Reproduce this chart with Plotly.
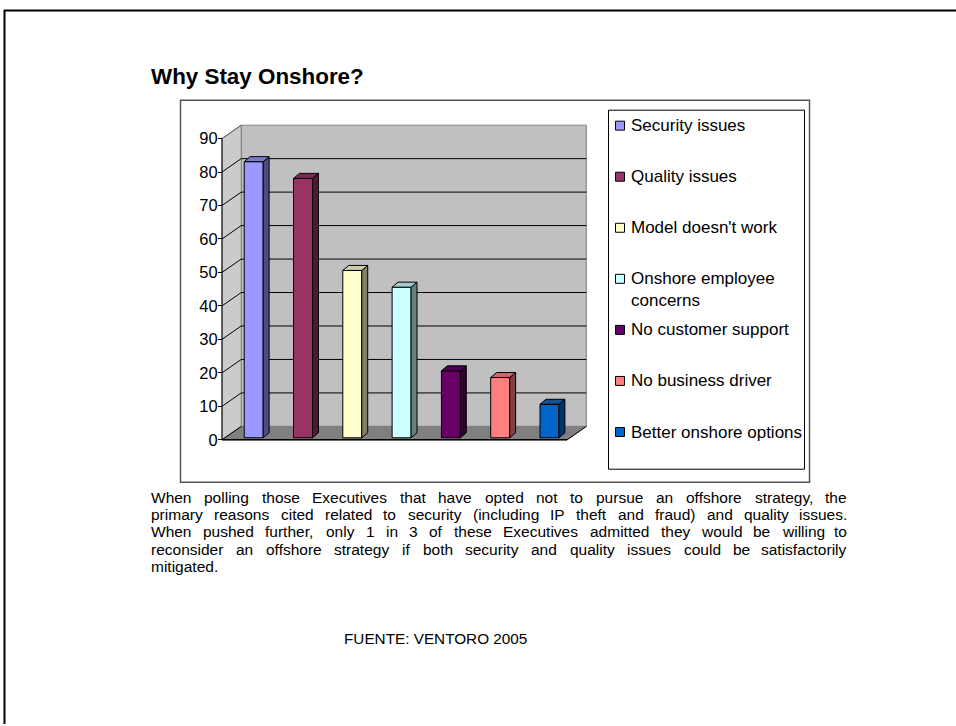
import plotly.graph_objects as go

# ---------------- data ----------------
categories = ["Security issues", "Quality issues", "Model doesn't work",
              "Onshore employee concerns", "No customer support",
              "No business driver", "Better onshore options"]
legend_lines = [["Security issues"], ["Quality issues"], ["Model doesn't work"],
                ["Onshore employee", "concerns"], ["No customer support"],
                ["No business driver"], ["Better onshore options"]]
values = [82.5, 77.5, 50, 45, 20, 18, 10]
front_colors = ["#9999FF", "#993366", "#FFFFCC", "#CCFFFF", "#660066", "#FF8080", "#0066CC"]
side_colors = ["#4C4C80", "#4D1A33", "#808066", "#668080", "#330033", "#804040", "#003366"]
top_colors = ["#7A7ACC", "#7A2952", "#CCCCA3", "#A3CCCC", "#520052", "#CC6666", "#0052A3"]
y_ticks = [0, 10, 20, 30, 40, 50, 60, 70, 80, 90]

title_text = "Why Stay Onshore?"
paragraph_lines = [
    "When polling those Executives that have opted not to pursue an offshore strategy, the",
    "primary reasons cited related to security (including IP theft and fraud) and quality issues.",
    "When pushed further, only 1 in 3 of these Executives admitted they would be willing to",
    "reconsider an offshore strategy if both security and quality issues could be satisfactorily",
    "mitigated.",
]
source_text = "FUENTE: VENTORO 2005"

# ---------------- geometry ----------------
W, H = 956, 726
FONT = "Arial, Liberation Sans, sans-serif"


def px(x):
    return x / W


def py(y):
    return 1 - y / H


X0_PX, UNIT_X = 222, 49.3      # front-left corner of the floor, px per category
Y0_PX, UNIT_Y = 441, 3.356     # value 0 on the front plane, px per unit
DOM_X = (214, 594)
DOM_Y = (115, 448)             # top, bottom in px
x_range = [(DOM_X[0] - X0_PX) / UNIT_X - 0.5, (DOM_X[1] - X0_PX) / UNIT_X - 0.5]
y_range = [(Y0_PX - DOM_Y[1]) / UNIT_Y, (Y0_PX - DOM_Y[0]) / UNIT_Y]

n = len(categories)
XL, XR = -0.5, n - 0.5          # front plane extents
DX, DY = 0.39, 4.0              # depth of the chart box
YMAX = y_ticks[-1]
BAR_SHIFT, BAR_W, BAR_BASE = 0.143, 0.385, 0.6
BDX, BDY = 0.12, 1.5           # depth of each bar


def path(pts):
    return "M " + " L ".join(f"{x},{y}" for x, y in pts) + " Z"


shapes = []
# back wall
shapes.append(dict(type="path", xref="x", yref="y", layer="below",
                   path=path([(XL + DX, DY), (XR + DX, DY), (XR + DX, YMAX + DY), (XL + DX, YMAX + DY)]),
                   fillcolor="#C0C0C0", line=dict(color="#808080", width=1)))
# left wall
shapes.append(dict(type="path", xref="x", yref="y", layer="below",
                   path=path([(XL, 0), (XL + DX, DY), (XL + DX, YMAX + DY), (XL, YMAX)]),
                   fillcolor="#CBCBCB", line=dict(color="#808080", width=1)))
# floor
shapes.append(dict(type="path", xref="x", yref="y", layer="below",
                   path=path([(XL, 0), (XR, 0), (XR + DX, DY), (XL + DX, DY)]),
                   fillcolor="#808080", line=dict(color="#808080", width=1)))
# gridlines
for t in y_ticks[1:-1]:
    shapes.append(dict(type="line", xref="x", yref="y", layer="below",
                       x0=XL + DX, y0=t + DY, x1=XR + DX, y1=t + DY,
                       line=dict(color="black", width=1)))
    shapes.append(dict(type="line", xref="x", yref="y", layer="below",
                       x0=XL, y0=t, x1=XL + DX, y1=t + DY,
                       line=dict(color="black", width=1)))
shapes.append(dict(type="line", xref="x", yref="y", layer="below",
                   x0=XL, y0=YMAX, x1=XL + DX, y1=YMAX + DY, line=dict(color="#606060", width=1)))
# floor front & right edges, axis line
shapes.append(dict(type="line", xref="x", yref="y", layer="below",
                   x0=XL, y0=0, x1=XR, y1=0, line=dict(color="black", width=1.5)))
shapes.append(dict(type="line", xref="x", yref="y", layer="below",
                   x0=XR, y0=0, x1=XR + DX, y1=DY, line=dict(color="black", width=1)))
shapes.append(dict(type="line", xref="x", yref="y", layer="below",
                   x0=XL, y0=0, x1=XL, y1=YMAX, line=dict(color="black", width=1)))
shapes.append(dict(type="line", xref="x", yref="y", layer="below",
                   x0=XL, y0=0, x1=XL + DX, y1=DY, line=dict(color="black", width=1)))

# bar side and top faces
bar_x = [i + BAR_SHIFT for i in range(n)]
for c, v, sc, tc in zip(bar_x, values, side_colors, top_colors):
    l, r = c - BAR_W / 2, c + BAR_W / 2
    b, t = BAR_BASE, BAR_BASE + v
    shapes.append(dict(type="path", xref="x", yref="y", layer="above",
                       path=path([(r, b), (r + BDX, b + BDY), (r + BDX, t + BDY), (r, t)]),
                       fillcolor=sc, line=dict(color="black", width=1)))
    shapes.append(dict(type="path", xref="x", yref="y", layer="above",
                       path=path([(l, t), (l + BDX, t + BDY), (r + BDX, t + BDY), (r, t)]),
                       fillcolor=tc, line=dict(color="black", width=1)))

# page border (top and left)
shapes.append(dict(type="line", xref="paper", yref="paper", x0=px(4), y0=py(10.5), x1=px(956), y1=py(10.5),
                   line=dict(color="black", width=2)))
shapes.append(dict(type="line", xref="paper", yref="paper", x0=px(4.5), y0=py(10), x1=px(4.5), y1=py(726),
                   line=dict(color="black", width=2)))
# chart frame
shapes.append(dict(type="rect", xref="paper", yref="paper", x0=px(180.5), y0=py(100.5), x1=px(809.5), y1=py(483.5),
                   line=dict(color="#555555", width=1.5)))
# legend box
shapes.append(dict(type="rect", xref="paper", yref="paper", x0=px(608.5), y0=py(110.5), x1=px(804.5), y1=py(470.5),
                   line=dict(color="black", width=1)))

annotations = []
# legend entries
LEG_Y0, LEG_STEP, LEG_LINE = 126, 51.2, 22
for k, (lines, col) in enumerate(zip(legend_lines, front_colors)):
    yc = LEG_Y0 + k * LEG_STEP
    shapes.append(dict(type="rect", xref="paper", yref="paper",
                       x0=px(615.5), y0=py(yc + 4.5), x1=px(624.5), y1=py(yc - 4.5),
                       fillcolor=col, line=dict(color="black", width=1)))
    for j, line in enumerate(lines):
        annotations.append(dict(xref="paper", yref="paper", x=px(629), y=py(yc + j * LEG_LINE),
                                text=line, showarrow=False, xanchor="left", yanchor="middle",
                                font=dict(family=FONT, size=17, color="black")))

# title
annotations.append(dict(xref="paper", yref="paper", x=px(149), y=py(77), text=f"<b>{title_text}</b>",
                        showarrow=False, xanchor="left", yanchor="middle",
                        font=dict(family=FONT, size=22.4, color="black")))

# justified paragraph (Arial advance widths, 1/1000 em), one annotation per word
AW = {" ": 278, ",": 278, ".": 278, "(": 333, ")": 333, "'": 191, ":": 278}
AW.update({d: 556 for d in "0123456789"})
AW.update(dict(zip("ABCDEFGHIJKLMNOPQRSTUVWXYZ",
                   [667, 667, 722, 722, 667, 611, 778, 722, 278, 500, 667, 556, 833,
                    722, 778, 667, 778, 722, 667, 611, 722, 667, 944, 667, 667, 611])))
AW.update(dict(zip("abcdefghijklmnopqrstuvwxyz",
                   [556, 556, 500, 556, 556, 278, 556, 556, 222, 222, 500, 222, 833,
                    556, 556, 556, 556, 333, 500, 278, 556, 500, 722, 500, 500, 500])))
P_SIZE, P_LEFT, P_RIGHT, P_TOP, P_STEP = 15.5, 150, 847.5, 499, 17.2


def text_w(s):
    return sum(AW.get(ch, 556) for ch in s) * P_SIZE / 1000


for j, line in enumerate(paragraph_lines):
    yline = py(P_TOP + j * P_STEP)
    words = line.split(" ")
    if j == len(paragraph_lines) - 1 or len(words) == 1:
        annotations.append(dict(xref="paper", yref="paper", x=px(P_LEFT), y=yline, text=line,
                                showarrow=False, xanchor="left", yanchor="middle", borderpad=0,
                                font=dict(family=FONT, size=P_SIZE, color="black")))
        continue
    widths = [text_w(w) for w in words]
    gap = (P_RIGHT - P_LEFT - sum(widths)) / (len(words) - 1)
    xpos = P_LEFT
    for k, (w, ww) in enumerate(zip(words, widths)):
        last = k == len(words) - 1
        annotations.append(dict(xref="paper", yref="paper",
                                x=px(P_RIGHT if last else xpos), y=yline, text=w,
                                showarrow=False, xanchor="right" if last else "left",
                                yanchor="middle", borderpad=0,
                                font=dict(family=FONT, size=P_SIZE, color="black")))
        xpos += ww + gap

# source
annotations.append(dict(xref="paper", yref="paper", x=px(342), y=py(640), text=source_text,
                        showarrow=False, xanchor="left", yanchor="middle",
                        font=dict(family=FONT, size=15.3, color="black")))

fig = go.Figure()
fig.add_trace(go.Bar(
    x=bar_x, y=values, base=BAR_BASE, width=BAR_W,
    marker=dict(color=front_colors, line=dict(color="black", width=1)),
    hovertext=categories, showlegend=False,
))

fig.update_layout(
    width=W, height=H,
    margin=dict(l=0, r=0, t=0, b=0),
    paper_bgcolor="white", plot_bgcolor="rgba(0,0,0,0)",
    showlegend=False,
    xaxis=dict(domain=[px(DOM_X[0]), px(DOM_X[1])], range=x_range, visible=False, fixedrange=True),
    yaxis=dict(domain=[py(DOM_Y[1]), py(DOM_Y[0])], range=y_range, anchor="free", position=px(X0_PX),
               tickvals=y_ticks, ticks="outside", ticklen=4, tickcolor="black", tickwidth=1,
               ticklabelstandoff=-3,
               showgrid=False, zeroline=False, showline=False,
               tickfont=dict(family=FONT, size=16.5, color="black"), fixedrange=True),
    shapes=shapes,
    annotations=annotations,
)

fig.write_html("out.html")
